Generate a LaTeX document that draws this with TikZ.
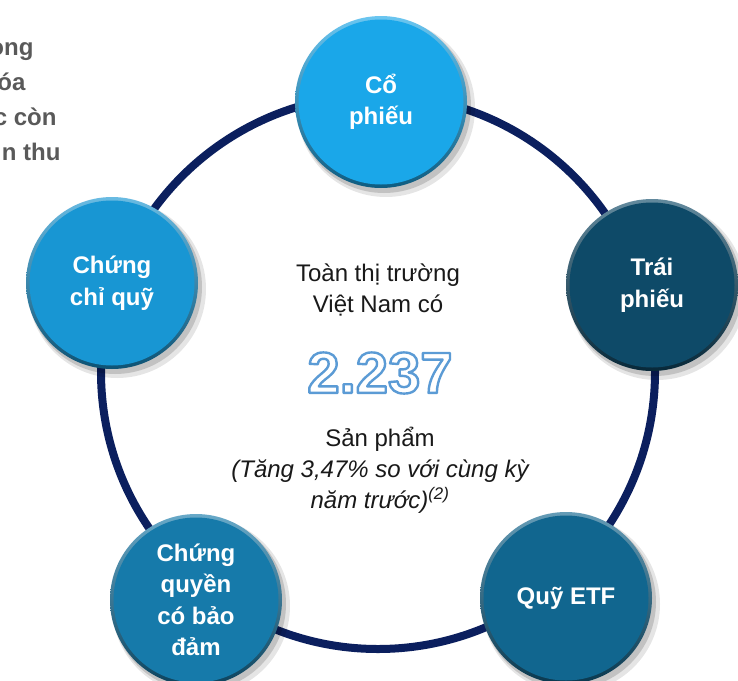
\documentclass[tikz,border=0pt]{standalone}
\usepackage{fontspec}
\setmainfont{Liberation Sans}
\definecolor{ringblue}{RGB}{11,31,94}
\definecolor{cA}{RGB}{26,167,233}
\definecolor{cB}{RGB}{24,150,211}
\definecolor{cC}{RGB}{14,74,104}
\definecolor{cD}{RGB}{22,122,170}
\definecolor{cE}{RGB}{17,102,143}
\definecolor{greytxt}{RGB}{89,89,89}
\newcommand\bub[5]{%
  \fill[black,opacity=0.10] (#2+5,#3+6) circle (89pt);
  \fill[black,opacity=0.15] (#2+3,#3+4) circle (87pt);
  \shade[top color=#4!65!white, bottom color=#4!55!black] (#2,#3) circle (86pt);
  \node[circle,fill=#4,minimum size=165pt,inner sep=0pt,bubbletext] (#1) at (#2,#3) {#5};
}
\newcommand\outlinetext[1]{\textcolor{white}{\special{pdf:literal direct 2 Tr 2.4 w 1 j 0.357 0.608 0.835 RG}#1\special{pdf:literal direct 0 Tr}}}
\begin{document}
\begin{tikzpicture}[x=1pt,y=-1pt,
  bubbletext/.style={text=white,font=\bfseries\fontsize{24}{31.5}\selectfont,align=center},
  centertext/.style={font=\fontsize{24}{31}\selectfont,align=center,text=black!90},
  sidetext/.style={anchor=base east,font=\bfseries\fontsize{24}{28}\selectfont,text=greytxt}]
\useasboundingbox (0,0) rectangle (738,680);
\clip (0,0) rectangle (738,680);
\fill[white] (0,0) rectangle (738,680);
% side text (cut at left edge)
\node[sidetext] (s1) at (37,55) {ong};
\node[sidetext] (s2) at (29,90) {óa};
\node[sidetext] (s3) at (60,125) {c còn};
\node[sidetext] (s4) at (64,160) {n thu};
% ring
\draw[ringblue,line width=8pt] (378,372) circle (277pt);
% bubbles
\bub{cp}{381}{102}{cA}{Cổ\\phiếu}
\bub{ccq}{112}{283}{cB}{Chứng\\chỉ quỹ}
\bub{tp}{652}{285}{cC}{Trái\\phiếu}
\bub{cq}{196}{600}{cD}{Chứng\\quyền\\có bảo\\đảm}
\bub{etf}{566}{598}{cE}{Quỹ ETF}
% centre text
\node[centertext] (t1) at (378,290) {Toàn thị trường\\Việt Nam có};
\node[font=\bfseries\fontsize{58}{58}\selectfont] (num) at (380,373) {\outlinetext{2.237}};
\node[centertext] (t2) at (380,470) {Sản phẩm\\\itshape (Tăng 3,47\% so với cùng kỳ\\\itshape năm trước)\textsuperscript{(2)}};
\end{tikzpicture}
\end{document}
